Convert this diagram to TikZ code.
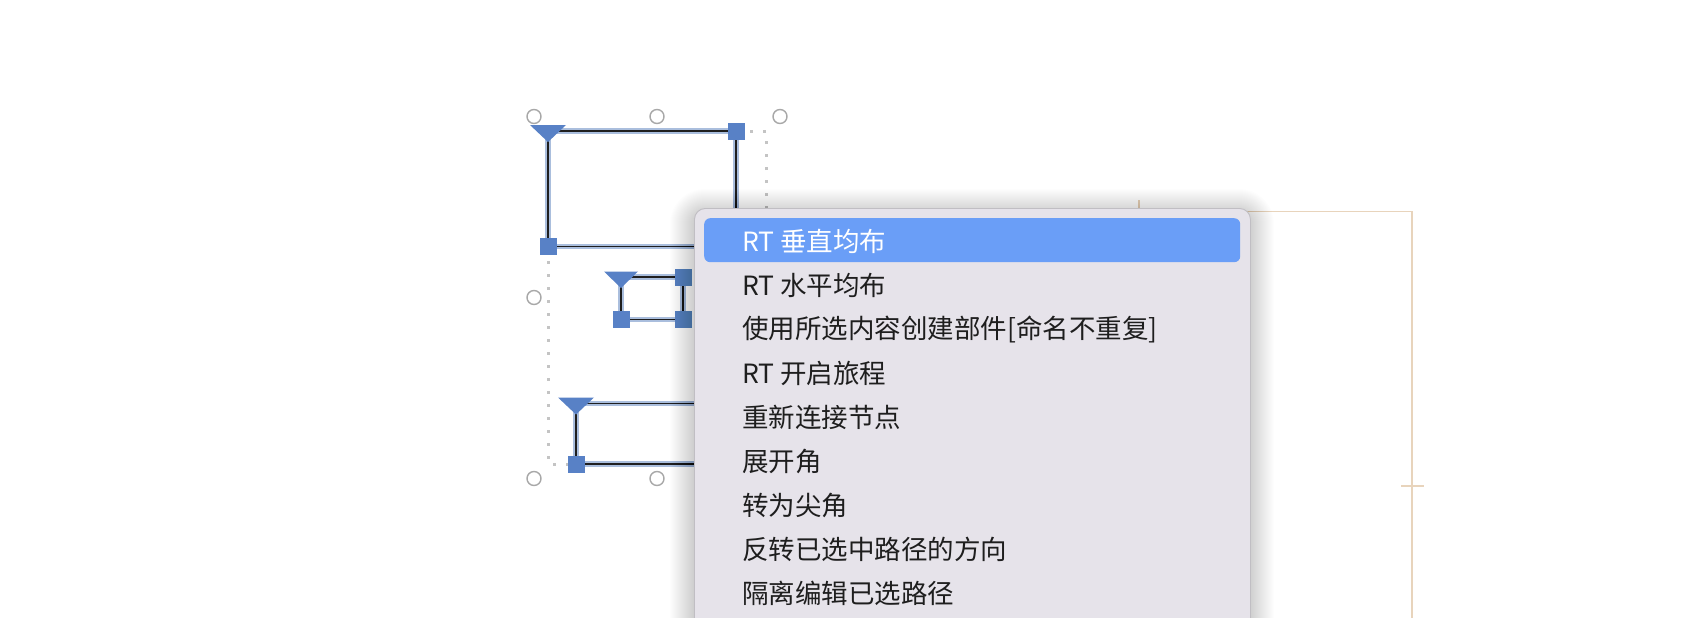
\documentclass[tikz,border=0pt]{standalone}
\usepackage{fontspec}
\setmainfont{Noto Sans CJK SC}
\definecolor{menubg}{RGB}{230,227,234}
\definecolor{menuborder}{RGB}{192,190,195}
\definecolor{hilite}{RGB}{106,158,247}
\definecolor{marker}{RGB}{88,129,198}
\definecolor{halo}{RGB}{170,190,221}
\definecolor{frameline}{RGB}{232,212,188}
\definecolor{handlegray}{RGB}{168,168,168}
\definecolor{dotgray}{RGB}{196,196,196}
\definecolor{menutext}{RGB}{30,30,30}
\tikzset{
  pathhalo/.style={draw=halo, line width=5.5pt, line join=miter},
  pathline/.style={draw=black!88, line width=1.5pt, line join=miter},
  nodesq/.style={rectangle, fill=marker, draw=none, minimum size=17pt, inner sep=0pt},
  starttri/.style={fill=marker, draw=none},
  handlecirc/.style={circle, draw=handlegray, line width=1.4pt, fill=white, minimum size=14pt, inner sep=0pt},
  bboxdots/.style={draw=dotgray, line width=3pt, dash pattern=on 3pt off 10pt},
  framel/.style={draw=frameline, line width=1.2pt},
  menubox/.style={rectangle, fill=menubg, draw=menuborder, line width=0.9pt, rounded corners=11pt,
    inner sep=0pt, anchor=north west},
  shadowlayer/.style={fill=black, opacity=0.0065, draw=none},
  hibar/.style={rectangle, fill=hilite, draw=none, rounded corners=6pt, inner sep=0pt, anchor=north west},
  item/.style={anchor=west, inner sep=0pt, text=menutext, font=\fontsize{26.5}{30}\selectfont},
}
\begin{document}
\begin{tikzpicture}[x=1pt,y=-1pt]
\useasboundingbox (0,0) rectangle (1708,618);
\fill[white] (0,0) rectangle (1708,618);

% guide frame (right)
\coordinate (ftl) at (1139,211.5);
\coordinate (ftr) at (1412,211.5);
\coordinate (fbr) at (1412,640);
\draw[framel] (ftl) -- (ftr) -- (fbr);
\coordinate (tkA) at (1139,200);
\coordinate (tkB) at (1139,223);
\draw[framel] (tkA) -- (tkB);
\coordinate (tkC) at (1401,486);
\coordinate (tkD) at (1424,486);
\draw[framel] (tkC) -- (tkD);

% selection bounding box
\coordinate (bbtl) at (548,131);
\coordinate (bbbr) at (766,464);
\draw[bboxdots] (bbtl) rectangle (bbbr);

% path 1 (large rectangle)
\coordinate (a1) at (548,131);
\coordinate (a2) at (736,131);
\coordinate (a3) at (736,246.5);
\coordinate (a4) at (548,246.5);
\draw[pathhalo] (a1) -- (a2) -- (a3) -- (a4) -- cycle;
\draw[pathline] (a1) -- (a2) -- (a3) -- (a4) -- cycle;

% path 2 (small rectangle)
\coordinate (b1) at (621,277);
\coordinate (b2) at (683,277);
\coordinate (b3) at (683,319.5);
\coordinate (b4) at (621,319.5);
\draw[pathhalo] (b1) -- (b2) -- (b3) -- (b4) -- cycle;
\draw[pathline] (b1) -- (b2) -- (b3) -- (b4) -- cycle;

% path 3 (lower rectangle)
\coordinate (c1) at (576,403.5);
\coordinate (c2) at (900,403.5);
\coordinate (c3) at (900,464);
\coordinate (c4) at (576,464);
\draw[pathhalo] (c1) -- (c2) -- (c3) -- (c4) -- cycle;
\draw[pathline] (c1) -- (c2) -- (c3) -- (c4) -- cycle;

% start markers (triangles)
\fill[starttri] (a1) ++(-18,-6) -- ++(36,0) -- ++(-18,17) -- cycle;
\fill[starttri] (b1) ++(-17,-5.5) -- ++(34,0) -- ++(-17,16.5) -- cycle;
\fill[starttri] (c1) ++(-18,-6) -- ++(36,0) -- ++(-18,17) -- cycle;

% node markers (squares)
\node[nodesq] (sqa2) at (a2) {};
\node[nodesq] (sqa4) at (a4) {};
\node[nodesq] (sqb2) at (b2) {};
\node[nodesq] (sqb3) at (b3) {};
\node[nodesq] (sqb4) at (b4) {};
\node[nodesq] (sqc4) at (c4) {};

% selection handles
\node[handlecirc] (h1) at (534,116.5) {};
\node[handlecirc] (h2) at (657,116.5) {};
\node[handlecirc] (h3) at (780,116.5) {};
\node[handlecirc] (h4) at (534,297.5) {};
\node[handlecirc] (h5) at (534,478.5) {};
\node[handlecirc] (h6) at (657,478.5) {};

% context menu: soft shadow, then the menu
\coordinate (mnw) at (694,208);
\coordinate (mse) at (1250,678);
\foreach \i in {1,...,24}{
  \fill[shadowlayer, rounded corners=11pt+\i pt]
    ([shift={(-\i,-\i+5)}]mnw) rectangle ([shift={(\i,\i+5)}]mse);
}
\node[menubox, minimum width=556pt, minimum height=470pt] (menu) at (mnw) {};
\node[hibar, minimum width=536pt, minimum height=44pt] (bar) at (704,218) {};

\node[item, text=white] (m1) at (742,241) {RT 垂直均布};
\node[item] (m2) at (742,285) {RT 水平均布};
\node[item] (m3) at (742,329) {使用所选内容创建部件[命名不重复]};
\node[item] (m4) at (742,373) {RT 开启旅程};
\node[item] (m5) at (742,417) {重新连接节点};
\node[item] (m6) at (742,461) {展开角};
\node[item] (m7) at (742,505) {转为尖角};
\node[item] (m8) at (742,549) {反转已选中路径的方向};
\node[item] (m9) at (742,593) {隔离编辑已选路径};
\end{tikzpicture}
\end{document}
